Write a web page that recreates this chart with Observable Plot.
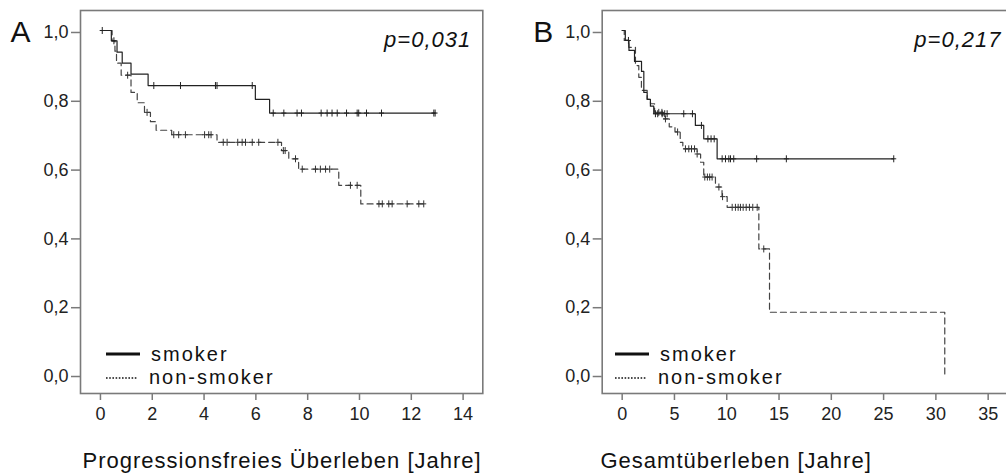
<!DOCTYPE html>
<html><head><meta charset="utf-8">
<script src="https://cdn.jsdelivr.net/npm/d3@7"></script>
<script src="https://cdn.jsdelivr.net/npm/@observablehq/plot@0.6"></script>
<style>
html,body{margin:0;padding:0;background:#fff;overflow:hidden}
#wrap{position:relative;width:1006px;height:473px;overflow:hidden;font-family:"Liberation Sans",Arial,sans-serif}
#wrap > svg{position:absolute;top:0}
.leg{position:absolute;font-size:20px;line-height:20px;letter-spacing:2px;color:#111;white-space:nowrap}
.legline{position:absolute}
</style></head><body><div id="wrap"></div>
<script>
// ---------- data ----------
const yTicks = [0, 0.2, 0.4, 0.6, 0.8, 1.0];
const aXTicks = [0, 2, 4, 6, 8, 10, 12, 14];
const bXTicks = [0, 5, 10, 15, 20, 25, 30, 35];
const seriesNames = ["smoker", "non-smoker"];
const aTitle = "Progressionsfreies Überleben [Jahre]";
const bTitle = "Gesamtüberleben [Jahre]";
const aP = "p=0,031";
const bP = "p=0,217";

// Panel A – progression-free survival
const aSmokerT = [0, 0.42, 0.64, 0.84, 1.18, 1.84, 5.98, 6.53, 12.9];
const aSmokerS = [1.0, 0.97, 0.937, 0.905, 0.873, 0.84, 0.80, 0.76, 0.76];
const aSmokerCens = [0.07, 0.52, 2.06, 3.09, 4.44, 4.5, 5.86, 6.67, 7.08, 7.59, 7.76, 8.52, 8.75, 8.94, 9.14, 9.5, 9.91, 9.97, 10.27, 10.85, 12.87, 12.92];
const aNonT = [0, 0.45, 0.56, 0.62, 0.8, 1.18, 1.42, 1.7, 1.93, 2.15, 2.75, 4.5, 6.99, 7.27, 7.65, 9.2, 10.05, 12.6];
const aNonS = [1.0, 0.97, 0.94, 0.905, 0.87, 0.82, 0.79, 0.762, 0.735, 0.71, 0.697, 0.675, 0.651, 0.627, 0.597, 0.55, 0.496, 0.496];
const aNonCens = [1.05, 1.8, 2.83, 3.02, 3.28, 4.02, 4.18, 4.27, 4.74, 4.89, 5.3, 5.47, 5.6, 5.86, 6.11, 6.85, 7.06, 7.13, 7.53, 7.79, 8.3, 8.49, 8.69, 8.85, 9.65, 9.91, 10.75, 10.88, 11.13, 11.26, 11.84, 12.29, 12.48];

// Panel B – overall survival
const bSmokerT = [0, 0.3, 0.65, 1.18, 1.85, 2.07, 2.39, 2.7, 3.02, 7.0, 7.8, 9.08, 25.97];
const bSmokerS = [1.0, 0.971, 0.942, 0.91, 0.881, 0.82, 0.80, 0.78, 0.758, 0.724, 0.685, 0.627, 0.627];
const bSmokerCens = [0.6, 3.18, 3.4, 3.82, 4.07, 4.3, 5.89, 6.72, 7.58, 8.2, 8.5, 8.8, 9.56, 9.88, 10.2, 10.36, 10.67, 12.86, 15.7, 25.97];
const bNonT = [0, 0.2, 0.63, 1.27, 1.59, 1.84, 2.39, 2.71, 3.1, 3.9, 4.5, 5.05, 5.55, 5.8, 7.17, 7.5, 7.8, 8.92, 9.55, 10.04, 13.07, 14.09, 30.85];
const bNonS = [1.0, 0.971, 0.951, 0.898, 0.864, 0.826, 0.80, 0.787, 0.762, 0.743, 0.72, 0.705, 0.675, 0.656, 0.641, 0.617, 0.574, 0.545, 0.517, 0.486, 0.365, 0.181, 0];
const bNonCens = [3.5, 3.8, 4.14, 5.3, 6.05, 6.37, 6.63, 6.92, 7.17, 7.9, 8.15, 8.37, 8.6, 9.25, 9.6, 10.52, 10.83, 11.09, 11.31, 11.57, 11.86, 12.17, 12.49, 12.91, 13.54];

// ---------- helpers ----------
function steps(T, S) { return T.map((t, i) => ({t, s: S[i]})); }
function survAt(T, S, t) { let s = S[0]; for (let i = 0; i < T.length; i++) if (T[i] <= t) s = S[i]; return s; }
function cens(C, T, S) { return C.map(t => ({t, s: survAt(T, S, t)})); }
const censorSymbol = {draw(ctx) { ctx.moveTo(0, -3.5); ctx.lineTo(0, 3.5); ctx.moveTo(-2.5, 0); ctx.lineTo(2.5, 0); }};
const fmtY = d => d.toFixed(1).replace(".", ",");

function panel(cfg) {
  const svg = Plot.plot({
    width: cfg.width, height: 473,
    marginLeft: cfg.marginLeft, marginRight: cfg.marginRight, marginTop: 10, marginBottom: 80,
    style: {fontFamily: '"Liberation Sans", Arial, sans-serif', background: "#fff", overflow: "visible"},
    x: {domain: cfg.xDomain, label: null},
    y: {domain: [-0.0552, 1.0581], label: null},
    marks: [
      Plot.line(steps(cfg.nonT, cfg.nonS), {x: "t", y: "s", curve: "step-after", stroke: "#444", strokeWidth: 1.2, strokeDasharray: "6,4"}),
      Plot.line(steps(cfg.smT, cfg.smS), {x: "t", y: "s", curve: "step-after", stroke: "#222", strokeWidth: 1.2}),
      Plot.dot(cens(cfg.nonC, cfg.nonT, cfg.nonS), {x: "t", y: "s", symbol: censorSymbol, stroke: "#333", fill: "none", strokeWidth: 1}),
      Plot.dot(cens(cfg.smC, cfg.smT, cfg.smS), {x: "t", y: "s", symbol: censorSymbol, stroke: "#222", fill: "none", strokeWidth: 1}),
      Plot.frame({stroke: "#7a7a7a", strokeWidth: 1.6}),
      Plot.axisX({ticks: cfg.xTicks, tickFormat: d => String(d), tickSize: 7, tickPadding: 7, stroke: "#7a7a7a", strokeWidth: 1.5, fill: "#222", fontSize: 18, label: null}),
      Plot.axisY({ticks: yTicks, tickFormat: fmtY, tickSize: 9, tickPadding: 3, dy: 2, stroke: "#7a7a7a", strokeWidth: 1.5, fill: "#222", fontSize: 18, label: null}),
      Plot.text([cfg.letter], {frameAnchor: "top-left", text: d => d, dx: cfg.letterDx, dy: 31.7, textAnchor: "start", lineAnchor: "bottom", fontSize: 30, fill: "#111"}),
      Plot.text([cfg.p], {frameAnchor: "top-right", text: d => d, dx: cfg.pDx, dy: 36.7, textAnchor: "end", lineAnchor: "bottom", fontSize: 22, fontStyle: "italic", fill: "#111"}),
      Plot.text([cfg.title], {frameAnchor: "bottom-left", text: d => d, dx: cfg.titleDx, dy: 74.5, textAnchor: "start", lineAnchor: "bottom", fontSize: 22, fill: "#111"})
    ]
  });
  svg.style.left = cfg.left + "px";
  svg.querySelectorAll("text").forEach(t => {
    const fs = t.getAttribute("font-size") || (t.parentNode && t.parentNode.getAttribute && t.parentNode.getAttribute("font-size"));
    if (fs === "22") t.style.letterSpacing = "1px";
  });
  return svg;
}

const wrap = document.getElementById("wrap");
wrap.appendChild(panel({
  left: 0, width: 503, marginLeft: 80, marginRight: 20.7, xDomain: [-0.77, 14.76], xTicks: aXTicks,
  smT: aSmokerT, smS: aSmokerS, smC: aSmokerCens, nonT: aNonT, nonS: aNonS, nonC: aNonCens,
  letter: "A", letterDx: -70, p: aP, pDx: -11.6, title: aTitle, titleDx: 2
}));
wrap.appendChild(panel({
  left: 503, width: 510, marginLeft: 98.7, marginRight: 4, xDomain: [-1.91, 37.04], xTicks: bXTicks,
  smT: bSmokerT, smS: bSmokerS, smC: bSmokerCens, nonT: bNonT, nonS: bNonS, nonC: bNonCens,
  letter: "B", letterDx: -69, p: bP, pDx: -8, title: bTitle, titleDx: -1.7
}));

// legends
function legend(x) {
  const ns = "http://www.w3.org/2000/svg";
  const mk = (top, dash) => {
    const s = document.createElementNS(ns, "svg");
    s.setAttribute("width", 40); s.setAttribute("height", 8);
    s.setAttribute("class", "legline");
    s.style.left = x + "px"; s.style.top = (top - 4) + "px";
    const l = document.createElementNS(ns, "line");
    l.setAttribute("x1", 0); l.setAttribute("x2", dash ? 32 : 34); l.setAttribute("y1", 4); l.setAttribute("y2", 4);
    l.setAttribute("stroke", "#111"); l.setAttribute("stroke-width", dash ? 1.6 : 3);
    if (dash) l.setAttribute("stroke-dasharray", "1.6,1.6");
    s.appendChild(l); wrap.appendChild(s);
  };
  mk(354.3, false); mk(378.3, true);
  const t1 = document.createElement("div"); t1.className = "leg"; t1.textContent = seriesNames[0];
  t1.style.left = (x + 45) + "px"; t1.style.top = "343.6px"; wrap.appendChild(t1);
  const t2 = document.createElement("div"); t2.className = "leg"; t2.textContent = seriesNames[1];
  t2.style.left = (x + 43) + "px"; t2.style.top = "366.6px"; wrap.appendChild(t2);
}
legend(106);
legend(615);
</script>
</body></html>
